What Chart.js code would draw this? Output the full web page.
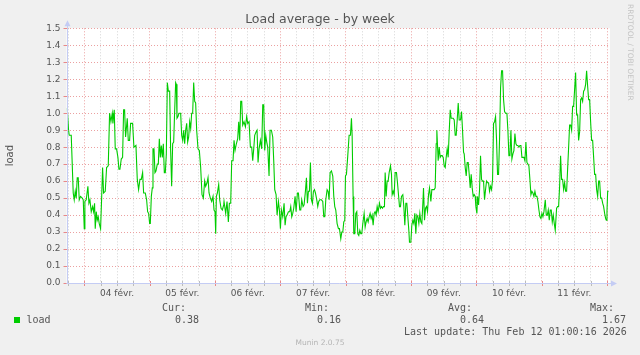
<!DOCTYPE html>
<html><head><meta charset="utf-8">
<script src="https://cdn.jsdelivr.net/npm/chart.js@4.4.1/dist/chart.umd.min.js"></script>
<style>
html,body{margin:0;padding:0;background:#F0F0F0;width:640px;height:355px;overflow:hidden;}
#wrap{position:relative;width:640px;height:355px;}
canvas{position:absolute;left:0;top:0;}
.t{position:absolute;white-space:pre;line-height:12px;}
.mono{font-family:"DejaVu Sans Mono",monospace;font-size:10px;color:#555;}
</style></head><body>
<div id="wrap">
<canvas id="c" width="640" height="355"></canvas>
<div class="t" style="left:0;width:640px;text-align:center;top:12px;line-height:14px;font-family:'DejaVu Sans';font-size:12.5px;color:#555;">Load average - by week</div>
<div class="t" style="left:625px;top:4px;writing-mode:vertical-rl;font-family:'DejaVu Sans';font-size:7.5px;color:#c4c4c4;line-height:10px;">RRDTOOL / TOBI OETIKER</div>
<div style="position:absolute;left:14px;top:317px;width:6px;height:6px;background:#00CC00;"></div>
<div class="t mono" style="left:26.5px;top:313.7px;">load</div>
<div class="t mono" style="left:162px;top:301.7px;">Cur:</div>
<div class="t mono" style="left:305px;top:301.7px;">Min:</div>
<div class="t mono" style="left:448px;top:301.7px;">Avg:</div>
<div class="t mono" style="left:590px;top:301.7px;">Max:</div>
<div class="t mono" style="left:175px;top:313.7px;">0.38</div>
<div class="t mono" style="left:317px;top:313.7px;">0.16</div>
<div class="t mono" style="left:460px;top:313.7px;">0.64</div>
<div class="t mono" style="left:602px;top:313.7px;">1.67</div>
<div class="t mono" style="left:404px;top:325.7px;">Last update: Thu Feb 12 01:00:16 2026</div>
<div class="t" style="left:0;width:640px;text-align:center;top:338px;line-height:10px;font-family:'DejaVu Sans';font-size:7.5px;color:#b4b4b4;">Munin 2.0.75</div>
</div>
<script>
// Hours since 03 Feb 00:00
const dayLabels = ["03 févr.","04 févr.","05 févr.","06 févr.","07 févr.","08 févr.","09 févr.","10 févr.","11 févr.","12 févr."];
const yTickLabels = ["0.0","0.1","0.2","0.3","0.4","0.5","0.6","0.7","0.8","0.9","1.0","1.1","1.2","1.3","1.4","1.5"];
const hours = [
17.69,18.18,18.42,19.16,19.89,20.26,20.63,20.99,21.36,21.73,22.10,22.59,23.20,23.57,23.94,24.18,24.67,25.28,25.65,26.02,
26.51,27.00,27.37,27.73,27.98,28.35,28.71,29.08,29.45,29.94,30.31,30.68,31.04,31.66,32.15,32.76,33.25,33.74,34.23,34.47,
34.96,35.33,35.82,36.31,36.68,37.05,37.54,38.03,38.40,38.76,39.13,39.74,40.11,40.60,40.97,41.70,42.19,42.93,43.42,43.91,
44.40,44.89,45.38,45.75,46.36,46.85,47.22,
47.60,47.96,48.21,48.58,48.94,49.19,49.56,49.92,50.29,50.78,51.15,51.52,51.89,52.25,52.62,52.99,53.36,53.72,54.09,54.46,
54.83,55.32,55.68,56.05,56.42,56.79,57.15,57.52,57.77,58.01,58.38,58.75,59.36,59.73,60.10,60.46,60.83,61.20,61.57,61.93,
62.30,62.67,63.04,63.40,63.77,64.14,64.51,64.87,65.24,65.73,66.22,66.71,67.20,67.69,68.18,68.55,69.04,69.41,69.78,70.27,
70.76,71.25,71.62,71.98,72.23,72.47,72.84,73.33,73.70,74.19,74.68,75.17,
75.29,75.90,76.39,76.88,77.25,77.74,78.11,78.60,78.97,79.33,79.82,80.31,80.68,81.05,81.42,81.79,82.15,82.64,83.13,83.62,
83.99,84.48,84.97,85.46,85.83,86.20,86.56,87.05,87.42,87.79,88.16,88.65,89.14,89.51,89.87,90.24,90.61,90.98,91.34,91.83,
92.20,92.69,93.18,93.55,93.92,94.41,94.78,95.27,95.63,96.00,96.37,96.86,97.35,97.72,98.08,98.45,98.94,99.43,99.80,100.17,
100.53,100.90,101.39,101.76,102.25,102.62,103.11,103.48,103.84,104.33,
104.70,105.19,105.56,105.93,106.29,106.66,107.03,107.40,107.76,108.13,108.50,108.87,109.36,109.72,110.09,110.46,111.07,111.56,111.93,112.30,
112.67,113.16,113.52,113.89,114.26,114.75,115.24,115.61,115.97,116.34,116.83,117.32,117.69,118.18,118.55,118.92,119.28,119.65,119.90,120.26,
120.75,121.24,121.73,122.10,122.35,122.71,122.96,123.33,123.70,124.06,124.43,124.80,125.17,125.53,125.90,126.27,126.76,127.13,127.49,127.86,
128.23,128.60,128.96,129.33,129.70,130.07,130.43,130.80,131.17,131.54,131.91,132.40,132.76,133.13,133.50,133.87,134.23,
134.48,134.85,135.21,135.58,135.95,136.44,136.81,137.05,137.42,137.79,138.15,138.64,139.01,139.38,139.75,140.11,140.48,140.97,141.34,141.71,
142.08,142.44,142.81,143.18,143.42,143.91,144.28,144.65,145.02,145.38,145.75,146.12,146.49,146.86,147.22,147.59,147.96,148.33,148.57,148.94,
149.31,149.67,150.04,150.41,150.78,151.27,151.63,152.00,152.49,152.86,153.23,153.47,153.96,154.33,154.70,155.07,155.43,155.80,156.17,156.54,
156.90,157.27,157.64,158.01,158.38,158.74,159.11,159.48,159.85,160.21,160.58,160.95,161.32,161.68,162.17,162.54,162.91,163.28,
163.52,163.89,164.26,164.62,164.99,165.36,165.73,166.09,166.46,166.83,167.20,167.56,167.81,168.18,168.42,168.79,169.16,169.52,169.89,170.26,
170.63,170.99,171.36,171.73,172.10,172.47,172.83,173.20,173.57,173.94,174.30,174.67,175.04,175.41,175.77,176.14,176.51,176.88,177.25,177.61,
177.98,178.35,178.72,179.21,179.57,179.94,180.31,180.68,181.04,181.41,181.78,182.15,182.52,182.88,183.25,183.62,183.99,184.35,184.72,185.09,
185.46,185.82,186.19,186.56,186.93,187.29,187.66,188.03,188.40,188.76,189.13,189.50,189.87,190.24,190.60,190.97,191.34,191.71,192.07,192.44,192.81,
193.30,193.67,194.03,194.40,194.77,195.14,195.50,195.87,196.24,196.61,196.97,197.22,197.46,197.83,198.20,198.57,198.93,199.30,199.67,200.04,
200.41,200.77,201.14,201.51,201.88,202.24,202.61,202.98,203.35,203.71,204.08,204.45,204.82,205.18,205.55,205.92,206.29,206.66,207.02,207.39,
207.76,208.13,208.49,208.86,209.23,209.60,209.96,210.33,210.70,211.07,211.43,211.80,212.17,212.54,212.91,213.27,213.64,214.01,214.38,214.74,
215.11,215.48,215.73,215.97,216.22,216.59
];
const load = [
1.03,0.90,0.87,0.87,0.53,0.49,0.54,0.50,0.62,0.62,0.49,0.51,0.50,0.49,0.32,0.48,0.49,0.57,0.47,0.49,
0.42,0.45,0.42,0.47,0.32,0.42,0.37,0.39,0.35,0.32,0.49,0.68,0.53,0.54,0.68,0.69,1.00,0.95,1.00,0.94,
1.02,0.79,0.79,0.74,0.67,0.67,0.73,0.74,1.02,1.02,0.86,0.97,0.84,0.84,0.94,0.94,0.80,0.81,0.61,0.55,
0.61,0.61,0.65,0.53,0.53,0.49,0.42,
0.41,0.35,0.35,0.51,0.56,0.79,0.79,0.65,0.66,0.70,0.70,0.85,0.74,0.81,0.74,0.82,0.65,0.65,0.76,1.18,
1.13,1.13,0.78,0.57,0.82,0.83,1.01,1.18,1.17,0.97,0.98,1.00,1.00,0.87,0.84,0.90,0.82,0.90,0.94,0.83,
0.86,0.95,0.91,1.00,1.00,1.18,1.07,1.06,0.90,0.79,0.78,0.68,0.52,0.50,0.60,0.57,0.59,0.62,0.53,0.50,
0.48,0.51,0.43,0.42,0.29,0.51,0.53,0.58,0.49,0.44,0.43,0.46,
0.48,0.41,0.48,0.36,0.47,0.47,0.72,0.72,0.84,0.78,0.82,0.85,0.95,0.84,1.07,1.07,0.93,0.95,0.92,0.98,
0.94,0.95,0.80,0.80,0.72,0.79,0.87,0.89,0.90,0.71,0.79,0.84,0.79,1.05,1.05,0.78,0.87,0.83,0.80,0.63,
0.90,0.90,0.86,0.72,0.55,0.52,0.40,0.48,0.43,0.32,0.43,0.39,0.47,0.34,0.39,0.40,0.42,0.42,0.45,0.39,
0.41,0.44,0.51,0.42,0.53,0.53,0.43,0.43,0.49,0.45,
0.46,0.54,0.62,0.47,0.54,0.54,0.71,0.49,0.47,0.54,0.55,0.53,0.49,0.45,0.48,0.49,0.49,0.48,0.39,0.39,
0.49,0.55,0.54,0.49,0.65,0.66,0.63,0.51,0.45,0.43,0.35,0.32,0.32,0.26,0.30,0.30,0.36,0.37,0.63,0.64,
0.75,0.87,0.87,0.97,0.87,0.51,0.29,0.29,0.41,0.42,0.29,0.28,0.31,0.29,0.29,0.35,0.41,0.33,0.36,0.38,
0.36,0.39,0.41,0.38,0.40,0.34,0.41,0.42,0.40,0.45,0.42,0.47,0.44,0.45,0.44,0.45,0.45,
0.65,0.51,0.60,0.60,0.65,0.69,0.64,0.52,0.54,0.52,0.65,0.65,0.59,0.52,0.45,0.45,0.51,0.52,0.45,0.34,
0.47,0.47,0.39,0.31,0.24,0.24,0.34,0.37,0.35,0.41,0.29,0.40,0.39,0.35,0.41,0.36,0.35,0.47,0.56,0.37,
0.44,0.45,0.42,0.52,0.56,0.48,0.55,0.55,0.55,0.56,0.82,0.90,0.72,0.80,0.74,0.75,0.75,0.74,0.69,0.68,
0.74,0.79,0.74,0.89,1.02,0.97,0.97,0.97,0.96,0.87,0.87,0.96,1.06,0.96,0.96,1.01,0.90,0.77,
0.76,0.68,0.63,0.71,0.71,0.64,0.56,0.64,0.56,0.51,0.52,0.51,0.45,0.41,0.51,0.46,0.55,0.75,0.61,0.60,
0.60,0.49,0.55,0.60,0.59,0.59,0.54,0.57,0.55,0.61,0.94,0.95,0.98,0.84,0.64,0.64,0.85,1.15,1.25,1.25,
1.08,1.01,1.00,1.00,0.90,0.75,0.75,0.90,0.73,0.76,0.78,0.88,0.82,0.81,0.81,0.80,0.81,0.81,0.74,0.74,
0.74,0.72,0.83,0.71,0.70,0.69,0.61,0.52,0.54,0.53,0.51,0.54,0.51,0.51,0.48,0.43,0.39,0.38,0.41,0.39,0.42,
0.49,0.40,0.40,0.43,0.37,0.43,0.43,0.36,0.40,0.35,0.31,0.31,0.44,0.45,0.45,0.57,0.75,0.61,0.61,0.55,
0.59,0.54,0.54,0.67,0.80,0.93,0.93,0.90,1.04,1.04,1.14,1.24,0.99,0.99,0.84,0.89,1.08,1.09,1.07,1.13,
1.14,1.17,1.25,1.16,1.08,1.08,0.95,0.84,0.84,0.74,0.64,0.64,0.55,0.51,0.60,0.60,0.50,0.50,0.47,0.45,
0.41,0.38,0.37,0.42,0.54,0.54
];

const RED = '#EBA0A0';
const GRAY = '#D4D4D4';
const AXIS = '#C4CCF4';
const gridHours = [];
for (let h = 18; h <= 216; h += 6) gridHours.push(h);

const munin = {
  id: 'munin',
  beforeDraw(chart) {
    const {ctx, chartArea: a} = chart;
    ctx.save();
    ctx.fillStyle = '#FFFFFF';
    ctx.fillRect(a.left, a.top, a.right - a.left, a.bottom - a.top);
    ctx.restore();
  },
  afterDraw(chart) {
    const {ctx, chartArea: a, scales} = chart;
    ctx.save();
    ctx.lineWidth = 1;
    scales.x.ticks.forEach(t => {
      const px = Math.round(scales.x.getPixelForValue(t.value)) + 0.5;
      ctx.strokeStyle = t.value % 24 === 0 ? '#E88888' : '#BBBBBB';
      ctx.beginPath(); ctx.moveTo(px, a.bottom - 2); ctx.lineTo(px, a.bottom + 3); ctx.stroke();
    });
    scales.y.ticks.forEach(t => {
      const py = Math.round(scales.y.getPixelForValue(t.value)) + 0.5;
      ctx.strokeStyle = '#E88888';
      ctx.beginPath(); ctx.moveTo(a.left - 3, py); ctx.lineTo(a.left + 2, py); ctx.stroke();
    });
    ctx.strokeStyle = AXIS;
    const x0 = Math.round(a.left) + 0.5, y0 = Math.round(a.bottom) + 0.5;
    ctx.beginPath(); ctx.moveTo(x0, a.bottom + 0.5); ctx.lineTo(x0, a.top - 4); ctx.stroke();
    ctx.beginPath(); ctx.moveTo(a.left, y0); ctx.lineTo(a.right + 3, y0); ctx.stroke();
    ctx.fillStyle = AXIS;
    ctx.beginPath(); ctx.moveTo(x0, a.top - 8); ctx.lineTo(x0 - 3, a.top - 2); ctx.lineTo(x0 + 3, a.top - 2); ctx.closePath(); ctx.fill();
    ctx.beginPath(); ctx.moveTo(a.right + 7, y0); ctx.lineTo(a.right + 1, y0 - 3); ctx.lineTo(a.right + 1, y0 + 3); ctx.closePath(); ctx.fill();
    ctx.restore();
  }
};

new Chart(document.getElementById('c'), {
  type: 'line',
  data: {
    datasets: [{
      label: 'load',
      data: hours.map((h, i) => ({x: h, y: load[i]})),
      borderColor: '#00CC00',
      borderWidth: 1.1,
      pointRadius: 0,
      tension: 0,
      fill: false
    }]
  },
  options: {
    responsive: false,
    devicePixelRatio: 1,
    animation: false,
    layout: {padding: {top: 28.3, right: 30, bottom: 0, left: 0}},
    plugins: {legend: {display: false}, tooltip: {enabled: false}, title: {display: false}},
    scales: {
      x: {
        type: 'linear', min: 17.42, max: 217.08,
        afterBuildTicks: s => { s.ticks = gridHours.map(v => ({value: v})); },
        afterFit: s => { s.height = 72; },
        grid: {color: c => (c.tick && c.tick.value % 24 === 0) ? RED : GRAY, drawTicks: false, lineWidth: 1},
        border: {display: false, dash: [1, 2]},
        ticks: {autoSkip: false, maxRotation: 0, padding: 5, color: '#555',
          font: {family: 'DejaVu Sans', size: 9},
          callback: v => (v % 24 === 12) ? dayLabels[Math.floor(v / 24)] : ''}
      },
      y: {
        min: 0, max: 1.5,
        afterBuildTicks: s => { s.ticks = yTickLabels.map((l, i) => ({value: i / 10})); },
        afterFit: s => { s.width = 66.5; },
        grid: {color: RED, drawTicks: false, lineWidth: 1},
        border: {display: false, dash: [1, 2]},
        ticks: {autoSkip: false, padding: 6, color: '#555',
          font: {family: 'DejaVu Sans', size: 9},
          callback: (v, i) => yTickLabels[i]},
        title: {display: true, text: 'load', color: '#555', font: {family: 'DejaVu Sans', size: 10}, padding: {top: 4, bottom: 4}}
      }
    }
  },
  plugins: [munin]
});
</script>
</body></html>
